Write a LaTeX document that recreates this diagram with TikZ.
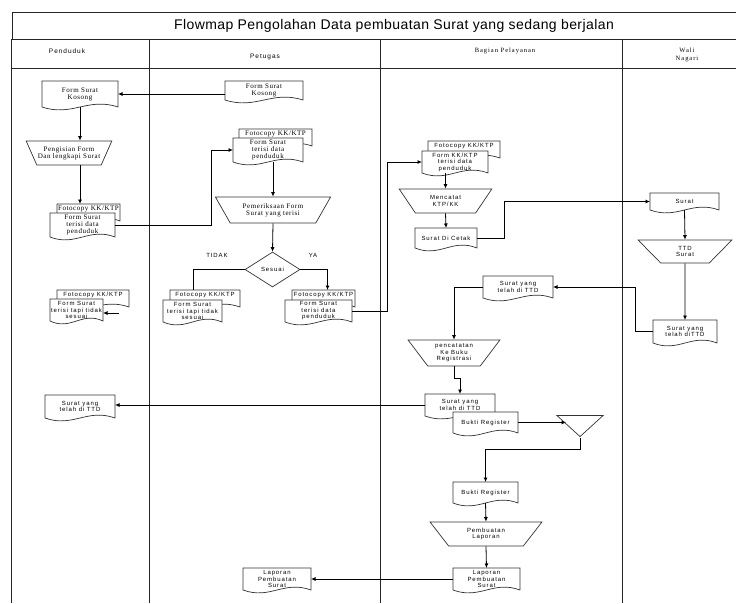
\documentclass[tikz,border=0pt]{standalone}
\usepackage{fontspec}
\setmainfont{Liberation Serif}
\setsansfont{Liberation Sans}
\newfontfamily\titlefont{Liberation Sans}[LetterSpace=3]
\newfontfamily\headsans{Liberation Sans}[LetterSpace=15]
\newfontfamily\headserif{Liberation Serif}[LetterSpace=15]
\newfontfamily\boxsans{Liberation Sans}[LetterSpace=15]
\newfontfamily\boxserif{Liberation Serif}[LetterSpace=8]
\usepackage{tikz}
\usetikzlibrary{arrows.meta, positioning, shapes.geometric}

% document symbol with a wavy bottom edge
\makeatletter
\newdimen\docL \newdimen\docR \newdimen\docB \newdimen\docT
\newdimen\docCa \newdimen\docCb \newdimen\docUp \newdimen\docDn
\pgfdeclareshape{document}{%
  \inheritsavedanchors[from=rectangle]%
  \inheritanchorborder[from=rectangle]%
  \inheritanchor[from=rectangle]{center}%
  \inheritanchor[from=rectangle]{text}%
  \inheritanchor[from=rectangle]{base}%
  \inheritanchor[from=rectangle]{mid}%
  \inheritanchor[from=rectangle]{north}%
  \inheritanchor[from=rectangle]{south}%
  \inheritanchor[from=rectangle]{east}%
  \inheritanchor[from=rectangle]{west}%
  \inheritanchor[from=rectangle]{north east}%
  \inheritanchor[from=rectangle]{north west}%
  \inheritanchor[from=rectangle]{south east}%
  \inheritanchor[from=rectangle]{south west}%
  \backgroundpath{%
    \southwest \docL=\pgf@x \docB=\pgf@y
    \northeast \docR=\pgf@x \docT=\pgf@y
    \docCa=\docR \advance\docCa by -\docL
    \docCb=0.4\docCa \advance\docCb by \docL
    \docCa=0.6\docCa \advance\docCa by \docL
    \docUp=\docB \advance\docUp by 10pt
    \docDn=\docB \advance\docDn by -10pt
    \pgfpathmoveto{\pgfqpoint{\docL}{\docT}}%
    \pgfpathlineto{\pgfqpoint{\docR}{\docT}}%
    \pgfpathlineto{\pgfqpoint{\docR}{\docB}}%
    \pgfpathcurveto{\pgfqpoint{\docCa}{\docUp}}{\pgfqpoint{\docCb}{\docDn}}{\pgfqpoint{\docL}{\docB}}%
    \pgfpathclose
  }%
}
\makeatother

\begin{document}
\begin{tikzpicture}[
        x=1pt, y=-1pt,
        lane/.style={line width=0.9pt, draw=black!85},
        sans/.style={font=\boxsans\fontsize{6}{6.5}\selectfont},
        roman/.style={font=\boxserif\fontsize{7}{7}\selectfont},
        doc/.style={shape=document, draw=black!80, fill=white, line width=0.7pt, inner sep=1pt, outer sep=0pt, align=center},
        backdoc/.style={doc, minimum height=17pt, text height=5pt, text depth=10pt},
        manual/.style={trapezium, trapezium stretches=true, trapezium left angle=128, trapezium right angle=128,
            draw=black!80, fill=white, line width=0.7pt, inner sep=0pt, align=center},
        decision/.style={diamond, draw=black!80, line width=0.7pt, inner sep=0pt, minimum width=55pt, minimum height=35pt},
        mergebox/.style={isosceles triangle, isosceles triangle stretches, shape border rotate=-90,
            draw=black!80, line width=0.7pt, inner sep=0pt, minimum width=46pt, minimum height=21pt},
        arrow/.style={-{Latex[length=4.5pt, width=4pt]}, line width=0.8pt},
        line/.style={line width=0.8pt}
    ]
        \useasboundingbox (0,0) rectangle (736,603);

        % Swimlane frame
        \draw[lane] (12,39) -- (12,12) -- (736,12);
        \draw[lane] (11,39) -- (736,39);
        \draw[lane] (11,68) -- (736,68);
        \foreach \x in {11,149,380,622}
            \draw[lane] (\x,39) -- (\x,603);

        \node[font=\titlefont\fontsize{14}{16}\selectfont] (title) at (394,26) {Flowmap Pengolahan Data pembuatan Surat yang sedang berjalan};
        \node[font=\headsans\fontsize{6.5}{7}\selectfont] (hpenduduk) at (67,51) {Penduduk};
        \node[font=\headsans\fontsize{6.5}{7}\selectfont] (hpetugas) at (265,57) {Petugas};
        \node[font=\headserif\fontsize{6.5}{7}\selectfont] (hbagian) at (505,51) {Bagian Pelayanan};
        \node[font=\headserif\fontsize{6.5}{7.5}\selectfont, align=center] (hwali) at (687,55) {Wali\\Nagari};

        % Penduduk nodes
        \node[doc, roman, minimum width=76pt, minimum height=26pt] (pkosong) at (80,94) {Form Surat\\Kosong};
        \node[manual, roman, minimum width=86pt, minimum height=24pt] (pisi) at (69,153) {Pengisian Form\\Dan lengkapi Surat};
        \node[backdoc, roman, minimum width=63pt] (pfoto) at (88.5,212.5) {Fotocopy KK/KTP};
        \node[doc, roman, minimum width=65pt, minimum height=24pt] (pdata) at (82.5,225) {Form Surat\\terisi data\\penduduk};
        \node[backdoc, sans, minimum width=72pt] (pfototidak) at (93,298.5) {Fotocopy KK/KTP};
        \node[doc, sans, minimum width=53pt, minimum height=22pt] (pdatatidak) at (76.5,310) {Form Surat\\terisi tapi tidak\\sesuai};
        \node[doc, sans, minimum width=70pt, minimum height=23pt] (psurat) at (80,406.5) {Surat yang\\telah di TTD};
        \coordinate (stub) at (119,313);

        % Petugas nodes
        \node[doc, roman, minimum width=78pt, minimum height=19pt] (tkosong) at (264,90.5) {Form Surat\\Kosong};
        \node[backdoc, roman, minimum width=73pt] (tfoto) at (275.5,137.5) {Fotocopy KK/KTP};
        \node[doc, roman, minimum width=70pt, minimum height=24pt] (tdata) at (268,150) {Form Surat\\terisi data\\penduduk};
        \node[manual, roman, minimum width=116pt, minimum height=26pt] (periksa) at (273,210) {Pemeriksaan Form\\Surat yang terisi};
        \node[decision, sans] (sesuai) at (272.5,269.5) {Sesuai};
        \node[sans] (tidak) at (217,255) {TIDAK};
        \node[sans] (ya) at (313,255) {YA};
        \node[backdoc, sans, minimum width=70pt] (tfototidak) at (205,298.5) {Fotocopy KK/KTP};
        \node[doc, sans, minimum width=59pt, minimum height=22pt] (tdatatidak) at (192.5,311) {Form Surat\\terisi tapi tidak\\sesuai};
        \node[backdoc, sans, minimum width=63pt] (tfotoya) at (323.5,298.5) {Fotocopy KK/KTP};
        \node[doc, sans, minimum width=67pt, minimum height=22pt] (tdataya) at (318.5,311) {Form Surat\\terisi data\\penduduk};
        \node[doc, sans, minimum width=68pt, minimum height=22pt] (tlaporan) at (277,579) {Laporan\\Pembuatan\\Surat};

        % Bagian Pelayanan nodes
        \node[backdoc, sans, minimum width=72pt] (bfoto) at (464,149.5) {Fotocopy KK/KTP};
        \node[doc, sans, minimum width=66pt, minimum height=22pt] (bdata) at (455,162) {Form KK/KTP\\terisi data\\penduduk};
        \node[manual, sans, minimum width=93pt, minimum height=24pt] (catat) at (445.5,201) {Mencatat\\KTP/KK};
        \node[doc, sans, minimum width=62pt, minimum height=20pt] (cetak) at (446,238) {Surat Di Cetak};
        \node[doc, sans, minimum width=70pt, minimum height=22pt] (bsurat) at (518,287) {Surat yang\\telah di TTD};
        \node[manual, sans, minimum width=92pt, minimum height=26pt] (registrasi) at (454,353) {pencatatan\\Ke Buku\\Registrasi};
        \node[doc, sans, minimum width=70pt, minimum height=22pt] (bsuratreg) at (460,405) {Surat yang\\telah di TTD};
        \node[doc, sans, minimum width=65pt, minimum height=21pt] (bukti) at (485.5,422.5) {Bukti Register};
        \node[mergebox] (merge) at (580,424.5) {};
        \node[doc, sans, minimum width=65pt, minimum height=21pt] (bukti2) at (485.5,492.5) {Bukti Register};
        \node[manual, sans, minimum width=112pt, minimum height=24pt] (buat) at (486,534) {Pembuatan\\Laporan};
        \node[doc, sans, minimum width=67pt, minimum height=22pt] (blaporan) at (486.5,579) {Laporan\\Pembuatan\\Surat};

        % Wali Nagari nodes
        \node[doc, sans, minimum width=69pt, minimum height=17pt] (wsurat) at (684.5,201.5) {Surat};
        \node[manual, sans, minimum width=94pt, minimum height=23pt] (ttd) at (685,251.5) {TTD\\Surat};
        \node[doc, sans, minimum width=64pt, minimum height=23pt] (wtelah) at (685,331.5) {Surat yang\\telah diTTD};

        % Flow arrows
        \draw[arrow] (tkosong.west |- pkosong.east) -- (pkosong.east);
        \draw[arrow] (pkosong.south) -- (pkosong.south |- pisi.north);
        \draw[arrow] (pkosong.south |- pisi.south) -- (pkosong.south |- pfoto.north);
        \draw[arrow] (pdata.east) -| ([xshift=-22pt]tdata.west) -- (tdata.west);
        \draw[arrow] (tdata.south -| periksa.north) -- (periksa.north);
        \draw[arrow] (periksa.south) -- (sesuai.north);
        \draw[line] (sesuai.west) -| ([xshift=-12pt]tfototidak.north);
        \draw[arrow] (sesuai.east) -| ([xshift=4pt]tfotoya.north);
        \draw[arrow] (stub) -- (stub -| pdatatidak.east);
        \draw[arrow] (tdataya.east) -| ([xshift=-35pt]bdata.west) -- (bdata.west);
        \draw[arrow] (bdata.south -| catat.north) -- (catat.north);
        \draw[arrow] (catat.south) -- (cetak.north);
        \draw[arrow] (cetak.east) -| ([xshift=-146pt]wsurat.west) -- (wsurat.west);
        \draw[arrow] (wsurat.south) -- (ttd.north);
        \draw[arrow] (ttd.south) -- (wtelah.north);
        \draw[arrow] (wtelah.west) -| ([xshift=82pt]bsurat.east) -- (bsurat.east);
        \draw[arrow] (bsurat.west) -| (registrasi.north);
        \draw[arrow] (registrasi.south) -- ++(0,12) -| (bsuratreg.north);
        \draw[arrow] (bsuratreg.west) -- (bsuratreg.west -| psurat.east);
        \draw[arrow] (bukti.east) -- (bukti.east -| merge.west);
        \draw[arrow] (merge.apex) -- ++(0,12) -| (bukti2.north);
        \draw[arrow] (bukti2.south) -- (buat.north);
        \draw[arrow] (buat.south) -- (blaporan.north);
        \draw[arrow] (blaporan.west) -- (blaporan.west -| tlaporan.east);
    \end{tikzpicture}
\end{document}
